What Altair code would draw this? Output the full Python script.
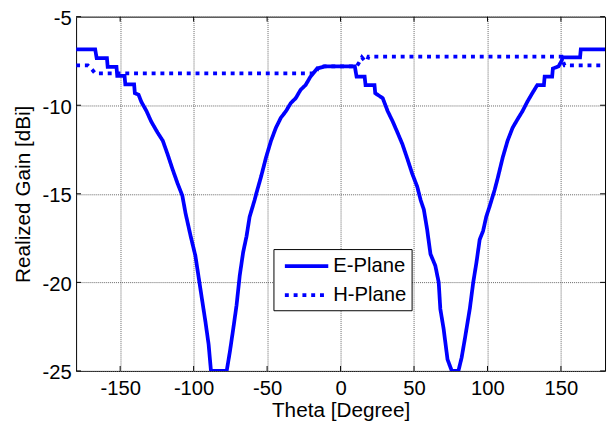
import altair as alt
import pandas as pd

# E-Plane (solid)
e_theta = [-180, -167, -166, -159, -158.5, -152.5, -152, -147, -146.5, -140.5, -140, -137.5,
           -135.7, -132, -129, -124.5, -121, -117.8, -114.4, -111, -107.7, -105.5, -102,
           -98.8, -95.4, -92, -89.8, -88.2, -77.5, -75.3, -73, -70.8, -68.6, -66.3, -64,
           -61.9, -58.5, -57.4, -54, -50.7, -47.3, -44, -40.6, -37.2, -33.9, -30.5, -27.2,
           -23.8, -20.5, -16, -10.4, 9.7, 10.9, 16.4, 17, 23.1, 23.6, 28.7, 32.1, 35.4,
           38.8, 42.1, 45.5, 48.8, 52.2, 54.5, 56.7, 58.9, 61.2, 64.5, 66.8, 67.9, 70.1,
           72.8, 75.7, 80.2, 82.4, 84.7, 88, 90.3, 92.5, 94.7, 97, 99.2, 101.5, 104.8, 107,
           110.4, 113.7, 117.1, 120.4, 123.8, 127.2, 130.5, 133.9, 138.4, 138.9, 144, 144.5,
           148.4, 150.6, 151, 163, 163.5, 180]
e_gain = [-6.85, -6.85, -7.34, -7.34, -7.84, -7.84, -8.34, -8.34, -8.82, -8.82, -9.32, -9.4,
          -9.79, -10.34, -10.9, -11.55, -12.0, -12.75, -13.6, -14.4, -15.1, -16.1, -17.4,
          -18.5, -20.36, -22.2, -23.5, -25, -25, -23.9, -22.6, -21.3, -19.6, -18.3, -17.4,
          -16.3, -15.35, -15.0, -14.0, -12.94, -12.0, -11.27, -10.7, -10.34, -9.88, -9.6, -9.13,
          -8.86, -8.39, -7.93, -7.8, -7.8, -8.39, -8.39, -8.86, -8.86, -9.32, -9.6, -10.34, -10.9,
          -11.55, -12.2, -13.03, -13.87, -14.6, -15.35, -15.9, -17.0, -18.4, -19.06, -20.0, -21.5, -22.6,
          -24.35, -25, -25, -24.25, -23.14, -21.47, -20.0, -18.87, -17.58, -17.1, -16.28, -15.7, -14.8, -14.1,
          -12.94, -12.0, -11.27, -10.8, -10.34, -9.79, -9.32, -8.86, -8.86, -8.39, -8.39, -7.93,
          -7.8, -7.47, -7.3, -7.3, -6.85, -6.85]

# H-Plane (dotted)
h_theta = [-180, -172, -169, -167, -17, -15, 11, 12.5, 14.5, 16, 18, 19, 150.5, 151.5, 152.5, 180]
h_gain = [-7.75, -7.75, -8.0, -8.2, -8.2, -7.8, -7.8, -7.6, -7.3, -7.45, -7.5, -7.25, -7.25,
          -7.55, -7.75, -7.75]

x_ticks = [-150, -100, -50, 0, 50, 100, 150]
y_ticks = [-25, -20, -15, -10, -5]
series = ["E-Plane", "H-Plane"]

W, H = 536, 359
FONT = "Liberation Sans"
BLUE = "#0000ff"

df = pd.concat([
    pd.DataFrame({"theta": e_theta, "gain": e_gain, "plane": series[0]}),
    pd.DataFrame({"theta": h_theta, "gain": h_gain, "plane": series[1]}),
])
xt = pd.DataFrame({"theta": x_ticks})
yt = pd.DataFrame({"gain": y_ticks})

xscale = alt.Scale(domain=[-180, 180], nice=False, zero=False)
yscale = alt.Scale(domain=[-25, -5], nice=False, zero=False)

lines = alt.Chart(df).mark_line(clip=True, strokeWidth=3.8, strokeCap="butt").encode(
    x=alt.X("theta:Q", scale=xscale,
            axis=alt.Axis(title="Theta [Degree]", values=x_ticks, grid=True, ticks=False,
                          tickSize=0, domain=False, labelPadding=7.5, labelFontSize=20.5,
                          titleFontSize=21, titleY=40.5, titleBaseline="middle",
                          labelFlush=False, labelExpr="toString(datum.value)")),
    y=alt.Y("gain:Q", scale=yscale,
            axis=alt.Axis(title="Realized Gain [dBi]", values=y_ticks, grid=True, ticks=False,
                          tickSize=0, domain=False, labelPadding=5, labelFontSize=20.5,
                          titleFontSize=21, titleX=-53, titleBaseline="middle",
                          labelOffset=2, labelFlush=False, labelExpr="toString(datum.value)")),
    color=alt.Color("plane:N", scale=alt.Scale(domain=series, range=[BLUE, BLUE]),
                    legend=alt.Legend(title=None)),
    strokeDash=alt.StrokeDash("plane:N", scale=alt.Scale(domain=series, range=[[1, 0], [4, 4.9]]),
                              legend=alt.Legend(title=None)),
)

bt = alt.Chart(xt).mark_rule(color="black", strokeWidth=1).encode(
    x=alt.X("theta:Q", scale=xscale), y=alt.value(H), y2=alt.value(H - 5))
tt = alt.Chart(xt).mark_rule(color="black", strokeWidth=1).encode(
    x=alt.X("theta:Q", scale=xscale), y=alt.value(0), y2=alt.value(5))
lt = alt.Chart(yt).mark_rule(color="black", strokeWidth=1).encode(
    y=alt.Y("gain:Q", scale=yscale), x=alt.value(0), x2=alt.value(5))
rt = alt.Chart(yt).mark_rule(color="black", strokeWidth=1).encode(
    y=alt.Y("gain:Q", scale=yscale), x=alt.value(W - 5), x2=alt.value(W))

chart = alt.layer(lines, bt, tt, lt, rt).properties(
    width=W, height=H,
    autosize=alt.AutoSizeParams(type="none"),
    padding={"left": 69, "top": 6, "right": 2, "bottom": 53},
).configure_view(
    stroke="black", strokeWidth=1
).configure_axis(
    labelFont=FONT, titleFont=FONT, labelColor="black", titleColor="black",
    titleFontWeight="normal", gridColor="#666666", gridDash=[1, 1], gridWidth=1,
).configure_legend(
    orient="none", legendX=200, legendY=235.5,
    strokeColor="black", fillColor="white", padding=4.75,
    symbolType="M-2.146,0H2.146", symbolSize=20.5 * 20.5, symbolStrokeWidth=3.8,
    symbolOffset=16.3, symbolFillColor="transparent",
    labelFont=FONT, labelFontSize=20.5, labelColor="black", labelOffset=14.5,
    rowPadding=6.5, labelLimit=300,
)

chart.save("out.html", embed_options={"renderer": "svg", "actions": False})
